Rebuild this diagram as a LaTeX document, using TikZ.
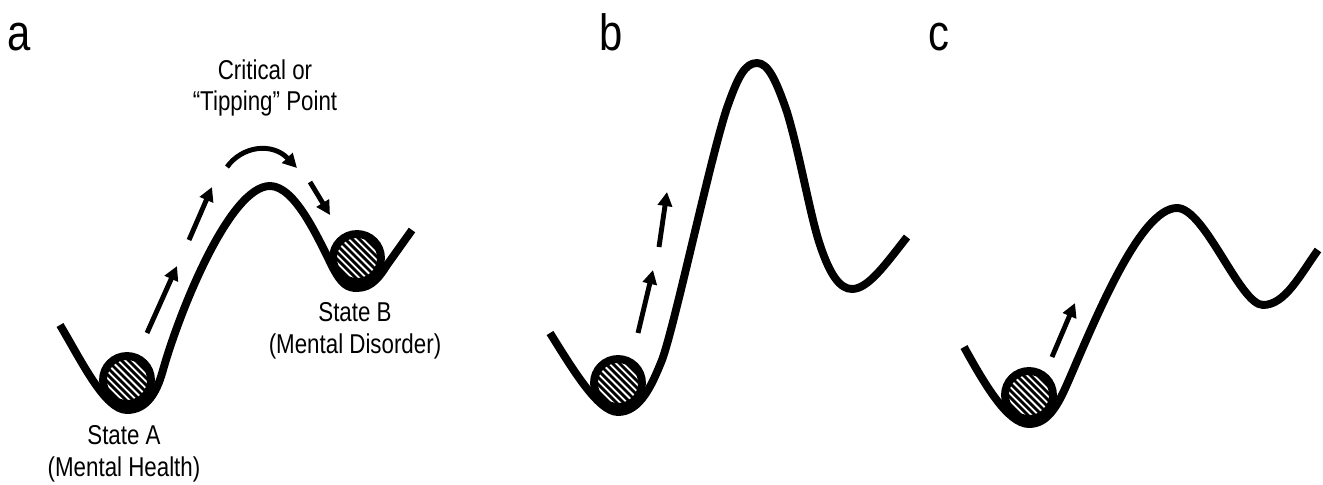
\documentclass[tikz,border=0pt]{standalone}
\usepackage{fontspec}
\usepackage{tikz}
\usetikzlibrary{arrows.meta,calc,positioning}
\newfontfamily\labelfont[FakeStretch=0.82]{Liberation Sans}

\begin{document}
\begin{tikzpicture}[x=0.02cm, y=-0.02cm,
        land/.style={line width=4.5pt, line join=round},
        ball/.style={circle, draw, line width=4.5pt, fill=white, minimum size=0.96cm, inner sep=0pt,
            path picture={
                \foreach \k in {-40,-36,...,40}
                    \draw[line width=1.6pt] ($(path picture bounding box.center)+(\k pt-30pt,30pt)$)
                        -- ($(path picture bounding box.center)+(\k pt+30pt,-30pt)$);
            }},
        push/.style={line width=2.8pt, -{Triangle[length=8pt, width=8pt]}},
        lbl/.style={font=\labelfont\fontsize{15.5}{18.1}\selectfont, align=center, inner sep=0pt},
        panel/.style={font=\labelfont\fontsize{29}{34}\selectfont, anchor=base, inner sep=0pt}
    ]
    \useasboundingbox (0,0) rectangle (1323,484);

    %% ---- panel letters ----
    \node[panel] (pa) at (19,50) {a};
    \node[panel] (pb) at (611,50) {b};
    \node[panel] (pc) at (939,50) {c};

    %% ======== Panel a ========
    \draw[land] (60,325) .. controls (82,362) and (105,410) .. (127,410)
        .. controls (147,410) and (157,392) .. (163,370)
        .. controls (180,310) and (230,186) .. (270,186)
        .. controls (295,186) and (318,238) .. (333,268)
        .. controls (342,285) and (348,288) .. (357,288)
        .. controls (372,288) and (380,276) .. (387,265) -- (412,230);
    \node[ball] (ballA) at (127,380) {};
    \node[ball] (ballB) at (357,258) {};
    % push up the slope
    \coordinate (a1s) at (147,333);  \coordinate (a1e) at (177,266);
    \coordinate (a2s) at (189,240);  \coordinate (a2e) at (212,187);
    \coordinate (a3s) at (227,167);  \coordinate (a3e) at (297,168);
    \coordinate (a4s) at (310,182);  \coordinate (a4e) at (330,215);
    \draw[push] (a1s) -- (a1e);
    \draw[push] (a2s) -- (a2e);
    \draw[push] (a3s) .. controls (242,146) and (272,142) .. (a3e);
    \draw[push] (a4s) -- (a4e);
    % labels
    \node[lbl] (tip) at (265,88) {Critical or\\“Tipping” Point};
    \node[lbl] (stA) at (124,454) {State A\\(Mental Health)};
    \node[lbl] (stB) at (355,331) {State B\\(Mental Disorder)};

    %% ======== Panel b ========
    \draw[land] (550,333) .. controls (572,368) and (598,412) .. (618,412)
        .. controls (640,412) and (652,385) .. (662,360)
        .. controls (675,325) and (712,150) .. (728,105)
        .. controls (738,77) and (745,63) .. (757,63)
        .. controls (768,63) and (776,80) .. (787,112)
        .. controls (800,155) and (810,215) .. (820,245)
        .. controls (830,275) and (840,289) .. (852,289)
        .. controls (868,289) and (885,265) .. (907,237);
    \node[ball] (ballb) at (618,383) {};
    \coordinate (b1s) at (638,333);  \coordinate (b1e) at (653,270);
    \coordinate (b2s) at (659,247);  \coordinate (b2e) at (667,192);
    \draw[push] (b1s) -- (b1e);
    \draw[push] (b2s) -- (b2e);

    %% ======== Panel c ========
    \draw[land] (964,347) .. controls (985,385) and (1008,424) .. (1029,424)
        .. controls (1048,424) and (1058,405) .. (1068,382)
        .. controls (1095,320) and (1140,208) .. (1177,208)
        .. controls (1205,208) and (1240,305) .. (1263,305)
        .. controls (1285,305) and (1300,275) .. (1318,250);
    \node[ball] (ballc) at (1029,395) {};
    \coordinate (c1s) at (1052,357);  \coordinate (c1e) at (1075,303);
    \draw[push] (c1s) -- (c1e);

\end{tikzpicture}
\end{document}
